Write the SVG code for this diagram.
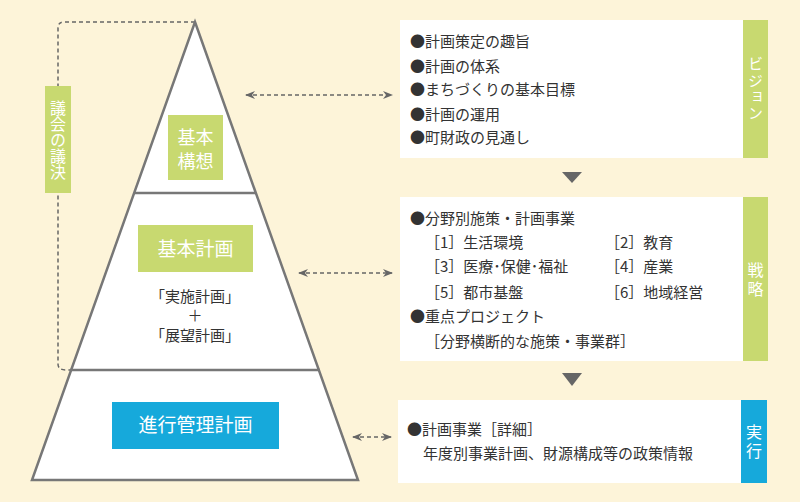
<svg xmlns="http://www.w3.org/2000/svg" width="800" height="502" viewBox="0 0 800 502">
<style>
.jp{font-family:"Noto Sans CJK JP","Noto Sans",sans-serif}
.w{fill:#fff}
.v{writing-mode:vertical-rl;text-anchor:middle}
.t{fill:#333;font-size:15px}
.g{fill:#C8D970}
.b{fill:#16A9DB}
.edge{fill:#fff;stroke:#777;stroke-width:2.5;stroke-linejoin:miter}
.dash{fill:none;stroke:#666;stroke-width:1.5;stroke-dasharray:4 3}
</style>
<defs>
<marker id="ah" viewBox="0 0 10 8" refX="9" refY="4" markerWidth="10" markerHeight="8" markerUnits="userSpaceOnUse" orient="auto-start-reverse">
<path d="M0,0 L10,4 L0,8 L3,4 Z" fill="#666"/>
</marker>
</defs>
<rect width="800" height="502" fill="#FDF4D9"/>

<g id="connectors">
<path class="dash" d="M195,22 H64 Q58,22 58,28 V364 Q58,370 66,370 H70"/>
<line class="dash" x1="246" y1="95" x2="392" y2="95" marker-start="url(#ah)" marker-end="url(#ah)"/>
<line class="dash" x1="299" y1="273" x2="392" y2="273" marker-start="url(#ah)" marker-end="url(#ah)"/>
<line class="dash" x1="353" y1="437" x2="391" y2="437" marker-start="url(#ah)" marker-end="url(#ah)"/>
<path d="M562,172 H582 L572,183 Z" fill="#666"/>
<path d="M562,373 H582 L572,386 Z" fill="#666"/>
</g>

<g id="pyramid">
<path class="edge" d="M195,22 L358,480 L32,480 Z"/>
<line x1="134" y1="193" x2="256" y2="193" stroke="#777" stroke-width="2.5"/>
<line x1="70" y1="370" x2="320" y2="370" stroke="#777" stroke-width="2.5"/>
</g>

<g id="gikai">
<rect class="g" x="45" y="86" width="26" height="107"/>
<text class="jp w v" font-size="16" x="58" y="140">議会の議決</text>
</g>

<g id="kihonkoso">
<rect class="g" x="168" y="115" width="55" height="65"/>
<text class="jp w" font-size="18" text-anchor="middle" x="195.5" y="144">基本</text>
<text class="jp w" font-size="18" text-anchor="middle" x="195.5" y="168">構想</text>
</g>

<g id="kihonkeikaku">
<rect class="g" x="138" y="225" width="115" height="47"/>
<text class="jp w" font-size="19" text-anchor="middle" x="195.5" y="256">基本計画</text>
<text class="jp t" text-anchor="middle" x="195" y="302">「実施計画」</text>
<text class="jp t" text-anchor="middle" x="195" y="321">＋</text>
<text class="jp t" text-anchor="middle" x="195" y="341">「展望計画」</text>
</g>

<g id="shinko">
<rect class="b" x="112" y="402" width="167" height="47"/>
<text class="jp w" font-size="19" text-anchor="middle" x="195.5" y="432">進行管理計画</text>
</g>

<g id="vision">
<rect x="400" y="20" width="343" height="138" fill="#fff"/>
<rect class="g" x="743" y="20" width="25" height="138"/>
<text class="jp t" x="410" y="47">●計画策定の趣旨</text>
<text class="jp t" x="410" y="72">●計画の体系</text>
<text class="jp t" x="410" y="95">●まちづくりの基本目標</text>
<text class="jp t" x="410" y="120">●計画の運用</text>
<text class="jp t" x="410" y="143">●町財政の見通し</text>
<text class="jp w v" font-size="15" letter-spacing="1.5" x="755.5" y="89">ビジョン</text>
</g>

<g id="senryaku">
<rect x="400" y="197" width="343" height="164" fill="#fff"/>
<rect class="g" x="743" y="197" width="25" height="164"/>
<text class="jp t" x="410" y="224">●分野別施策・計画事業</text>
<text class="jp t" x="425" y="248">［1］生活環境</text>
<text class="jp t" x="425" y="272">［3］医療･保健･福祉</text>
<text class="jp t" x="425" y="298">［5］都市基盤</text>
<text class="jp t" x="410" y="322">●重点プロジェクト</text>
<text class="jp t" x="425" y="347">［分野横断的な施策・事業群］</text>
<text class="jp t" x="605" y="248">［2］教育</text>
<text class="jp t" x="605" y="272">［4］産業</text>
<text class="jp t" x="605" y="298">［6］地域経営</text>
<text class="jp w v" font-size="16" letter-spacing="3" x="755.5" y="281">戦略</text>
</g>

<g id="jikko">
<rect x="398" y="400" width="343" height="83" fill="#fff"/>
<rect class="b" x="741" y="400" width="26" height="83"/>
<text class="jp t" x="407" y="435">●計画事業［詳細］</text>
<text class="jp t" x="423" y="459">年度別事業計画、財源構成等の政策情報</text>
<text class="jp w v" font-size="16" letter-spacing="3" x="754" y="443">実行</text>
</g>
</svg>
